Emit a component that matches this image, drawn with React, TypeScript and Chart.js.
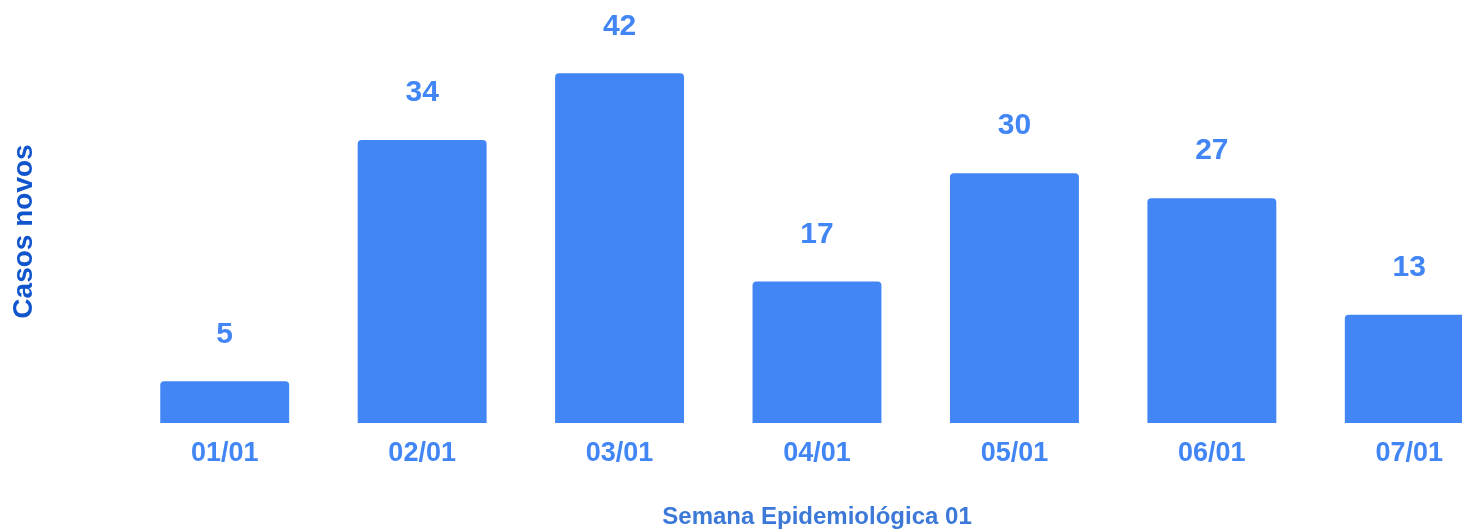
import React, { useEffect, useRef } from "react";
import { Chart, registerables } from "chart.js";

Chart.register(...registerables);

const categories = ["01/01", "02/01", "03/01", "04/01", "05/01", "06/01", "07/01"];
const casosNovos = [5, 34, 42, 17, 30, 27, 13];
const yTitle = "Casos novos";
const xTitle = "Semana Epidemiológica 01";

const FONT = "'Liberation Sans', Arial, sans-serif";
const BAR = "#4285F4";

const valueLabels = {
  id: "valueLabels",
  afterDatasetsDraw(chart: any) {
    const ctx = chart.ctx;
    const meta = chart.getDatasetMeta(0);
    const data = chart.data.datasets[0].data;
    ctx.save();
    ctx.font = `bold 30px ${FONT}`;
    ctx.fillStyle = BAR;
    ctx.textAlign = "center";
    ctx.textBaseline = "middle";
    meta.data.forEach((bar: any, i: number) => {
      ctx.fillText(String(data[i]), bar.x, bar.y - 47);
    });
    ctx.restore();
  },
};

export default function App() {
  const ref = useRef<HTMLCanvasElement | null>(null);
  useEffect(() => {
    if (!ref.current) return;
    const chart = new Chart(ref.current, {
      type: "bar",
      data: {
        labels: categories,
        datasets: [
          {
            data: casosNovos,
            backgroundColor: BAR,
            borderRadius: 4,
            borderSkipped: "start",
            barPercentage: 0.653,
            categoryPercentage: 1,
          },
        ],
      },
      options: {
        animation: false,
        responsive: false,
        layout: { padding: { top: 40, left: 0, right: 0, bottom: 0 } },
        plugins: {
          legend: { display: false },
          tooltip: { enabled: false },
        },
        scales: {
          x: {
            grid: { display: false, drawTicks: false },
            border: { display: false },
            ticks: {
              color: BAR,
              font: { family: FONT, size: 27, weight: "bold" },
              padding: 14,
            },
            title: {
              display: true,
              text: xTitle,
              color: "#3C78D8",
              font: { family: FONT, size: 24, weight: "bold" },
              padding: { top: 0, bottom: -3 },
            },
            afterFit(scale: any) {
              scale.height = 106;
            },
          },
          y: {
            min: 0,
            max: 46,
            grid: { display: false, drawTicks: false },
            border: { display: false },
            ticks: { display: false },
            title: {
              display: true,
              text: yTitle,
              color: "#1155CC",
              font: { family: FONT, size: 28, weight: "bold" },
              padding: { top: 7, bottom: 0 },
            },
            afterFit(scale: any) {
              scale.width = 126;
            },
          },
        },
      },
      plugins: [valueLabels],
    });
    return () => chart.destroy();
  }, []);

  return (
    <div
      style={{
        position: "fixed",
        left: 0,
        top: 0,
        width: 1462,
        height: 529,
        overflow: "hidden",
        background: "#fff",
      }}
    >
      <canvas ref={ref} width={1508} height={529} style={{ display: "block" }} />
    </div>
  );
}
